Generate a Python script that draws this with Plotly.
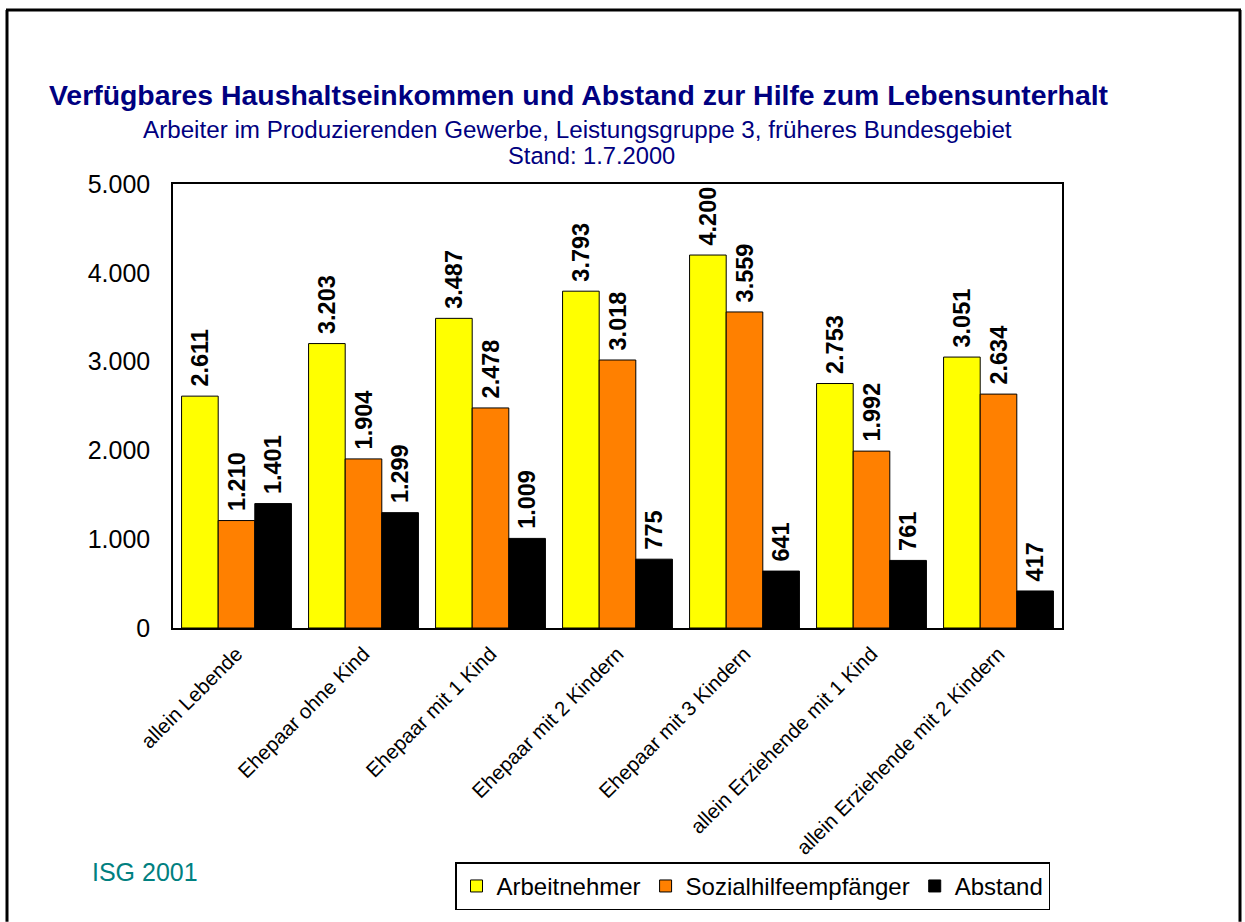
import plotly.graph_objects as go

categories = ["allein Lebende", "Ehepaar ohne Kind", "Ehepaar mit 1 Kind", "Ehepaar mit 2 Kindern",
              "Ehepaar mit 3 Kindern", "allein Erziehende mit 1 Kind", "allein Erziehende mit 2 Kindern"]
arbeitnehmer = [2611, 3203, 3487, 3793, 4200, 2753, 3051]
sozialhilfe = [1210, 1904, 2478, 3018, 3559, 1992, 2634]
abstand = [1401, 1299, 1009, 775, 641, 761, 417]
y_ticks = [0, 1000, 2000, 3000, 4000, 5000]
y_tick_labels = ["0", "1.000", "2.000", "3.000", "4.000", "5.000"]

FONT = "Arial, Liberation Sans, sans-serif"

def fmt(v):
    return "\u00a0" + f"{v:,}".replace(",", ".")

fig = go.Figure()
for name, vals, color in [("Arbeitnehmer", arbeitnehmer, "#FFFF00"),
                          ("Sozialhilfeempfänger", sozialhilfe, "#FF8000"),
                          ("Abstand", abstand, "#000000")]:
    fig.add_trace(go.Bar(
        x=categories, y=vals, name=name,
        marker=dict(color=color, line=dict(color="#000000", width=1)),
        text=[fmt(v) for v in vals], textposition="outside", textangle=-90,
        cliponaxis=False, constraintext="none",
        textfont=dict(family=FONT, size=23.5, color="#000000", weight="bold"),
    ))

L, R, T, B = 173, 1062, 184, 633
W, H = 1245, 922
pw, ph = R - L, B - T

def px(x):
    return (x - L) / pw

def py(y):
    return (B - y) / ph

fig.update_layout(
    width=W, height=H,
    margin=dict(l=L, r=W - R, t=T, b=H - B, pad=0),
    paper_bgcolor="white", plot_bgcolor="white",
    barmode="group", bargap=0.135, bargroupgap=0,
    font=dict(family=FONT, color="#000000"),
    showlegend=True,
    legend=dict(orientation="h", x=px(455), y=py(870), xanchor="left", yanchor="top",
                bordercolor="#000000", borderwidth=1.5, bgcolor="white",
                font=dict(family=FONT, size=24, color="#000000"),
                traceorder="normal"),
    xaxis=dict(tickangle=-45, tickfont=dict(family=FONT, size=20.5, color="#000000"),
               showline=True, linecolor="#000000", linewidth=1.5, mirror=True,
               ticks="", showgrid=False, ticklabelstandoff=4),
    yaxis=dict(range=[0, 5000], tickvals=y_ticks, ticktext=y_tick_labels,
               tickfont=dict(family=FONT, size=25, color="#000000"),
               showline=True, linecolor="#000000", linewidth=1.5, mirror=True,
               ticks="", showgrid=False, ticklabelstandoff=16),
    annotations=[
        dict(text="<b>Verfügbares Haushaltseinkommen und Abstand zur Hilfe zum Lebensunterhalt</b>",
             xref="paper", yref="paper", x=px(47), y=py(94), xanchor="left", yanchor="middle",
             showarrow=False, font=dict(family=FONT, size=28.4, color="#000080")),
        dict(text="Arbeiter im Produzierenden Gewerbe, Leistungsgruppe 3, früheres Bundesgebiet",
             xref="paper", yref="paper", x=px(577), y=py(129), xanchor="center", yanchor="middle",
             showarrow=False, font=dict(family=FONT, size=24.2, color="#000080")),
        dict(text="Stand: 1.7.2000",
             xref="paper", yref="paper", x=px(591), y=py(156), xanchor="center", yanchor="middle",
             showarrow=False, font=dict(family=FONT, size=23.7, color="#000080")),
        dict(text="ISG 2001",
             xref="paper", yref="paper", x=px(90), y=py(880), xanchor="left", yanchor="middle",
             showarrow=False, font=dict(family=FONT, size=25, color="#008080")),
    ],
    shapes=[
        dict(type="line", xref="paper", yref="paper", x0=px(7), x1=px(7), y0=py(8), y1=py(930),
             line=dict(color="#000000", width=3)),
        dict(type="line", xref="paper", yref="paper", x0=px(6), x1=px(1241), y0=py(8), y1=py(8),
             line=dict(color="#000000", width=3)),
        dict(type="line", xref="paper", yref="paper", x0=px(1240), x1=px(1240), y0=py(8), y1=py(930),
             line=dict(color="#000000", width=3)),
    ],
)

fig.write_html("out.html", config={"displayModeBar": False},
               post_script="document.body.style.margin='0';document.body.style.overflow='hidden';")
